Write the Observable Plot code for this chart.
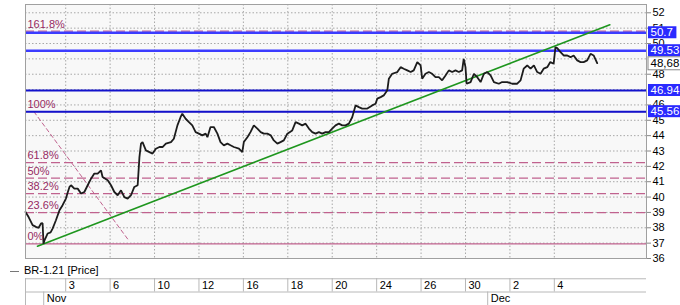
<!DOCTYPE html>
<html><head><meta charset="utf-8">
<script src="https://cdn.jsdelivr.net/npm/d3@7"></script>
<script src="https://cdn.jsdelivr.net/npm/@observablehq/plot@0.6"></script>
<style>
html,body{margin:0;padding:0;background:#fff;}
#wrap{position:relative;width:680px;height:305px;overflow:hidden;font-family:"Liberation Sans",Arial,sans-serif;}
#wrap svg{display:block;}
#legend{position:absolute;left:10px;top:263px;font-size:11px;color:#000;line-height:14px;}
#legend span.dash{display:inline-block;width:9px;border-top:1px solid #777;vertical-align:middle;margin-right:5px;}
#dates{position:absolute;left:0;top:278px;}
</style></head><body>
<div id="wrap"><div id="main"></div><div id="legend"><span class="dash"></span>BR-1.21 [Price]</div><div id="dates"></div></div>
<script>
// ---- data (trading-day index t: 0 = start of Nov 2, 2020) ----
const priceT = [-0.81,-0.67,-0.49,-0.34,-0.22,-0.11,-0.04,0.00,0.05,0.19,0.32,0.41,0.56,0.72,0.86,1.01,1.09,1.17,1.24,1.39,1.54,1.69,1.84,1.99,2.14,2.29,2.44,2.59,2.66,2.89,3.04,3.19,3.34,3.49,3.64,3.79,3.94,4.09,4.24,4.32,4.39,4.46,4.61,4.77,4.91,5.06,5.22,5.36,5.51,5.74,5.87,6.03,6.17,6.25,6.40,6.55,6.70,6.85,7.00,7.15,7.30,7.38,7.52,7.67,7.83,7.97,8.12,8.28,8.42,8.57,8.80,8.95,9.02,9.18,9.32,9.47,9.63,9.78,9.92,10.08,10.23,10.37,10.53,10.67,10.82,10.98,11.20,11.35,11.50,11.65,11.80,11.95,12.10,12.25,12.40,12.55,12.70,12.85,13.00,13.15,13.30,13.45,13.60,13.75,13.90,14.05,14.20,14.35,14.58,14.80,14.95,15.03,15.18,15.32,15.48,15.55,15.70,15.93,16.08,16.22,16.38,16.53,16.67,16.83,16.98,17.05,17.20,17.35,17.50,17.65,17.80,17.95,18.10,18.25,18.40,18.55,18.70,18.85,18.92,19.00,19.05,19.23,19.38,19.53,19.68,19.83,19.98,20.13,20.28,20.50,20.65,20.88,21.10,21.33,21.48,21.62,21.78,21.93,22.08,22.23,22.38,22.52,22.68,22.82,22.97,23.05,23.13,23.28,23.42,23.58,23.73,23.87,24.03,24.18,24.32,24.48,24.63,24.77,24.93];
const priceV = [39.03,38.70,38.17,38.06,38.00,38.28,38.30,36.96,37.20,37.63,37.70,37.95,38.49,39.14,39.47,39.90,40.30,40.66,40.77,40.55,40.55,40.23,40.33,40.77,41.20,41.53,41.53,41.74,41.31,41.09,40.77,40.33,40.12,40.44,40.00,39.90,40.12,40.66,40.77,42.60,43.48,43.58,43.04,42.93,42.83,43.15,43.26,43.26,43.48,43.58,43.80,44.67,45.20,45.43,45.10,44.88,44.67,44.23,44.13,44.02,44.13,43.90,44.56,44.56,44.13,43.58,43.37,43.48,43.37,43.26,43.15,42.93,43.58,43.90,44.23,44.67,44.46,44.23,44.13,44.13,44.02,43.69,43.48,43.58,43.69,44.13,44.34,44.88,44.78,44.67,44.78,44.46,44.23,44.13,44.23,44.13,44.23,44.23,44.46,44.67,44.78,44.67,44.67,44.78,45.20,45.97,45.86,45.76,45.76,45.97,46.08,46.41,46.51,46.62,46.95,47.71,48.03,48.14,48.46,48.36,48.25,48.14,48.25,48.79,48.57,47.71,48.03,48.14,48.03,47.81,47.81,47.60,47.92,48.25,48.14,48.25,48.14,48.25,49.00,48.46,47.38,47.49,48.03,47.81,47.49,48.03,48.14,47.92,47.49,47.38,47.49,47.49,47.38,47.38,47.60,48.36,48.57,48.36,48.57,48.14,48.03,48.36,48.46,48.79,48.68,49.76,49.70,49.44,49.22,49.22,49.11,49.22,48.90,48.79,48.79,48.90,49.33,49.22,48.72];

const yTicks = [36,37,38,39,40,41,42,43,44,45,46,47,48,49,50,51,52];
const yTickLabels = [36,37,38,39,40,41,42,43,44,45,46,48,50,51,52]; // 47 and 49 are hidden under value boxes
const dayTickT = [1,3,5,7,9,11,13,15,17,19,21,23];
const dayTickLabels = ["3","6","10","12","16","18","20","24","26","30","2","4"];
const monthT = [0.01,20.0];
const monthLabels = ["Nov","Dec"];

const fibLevels = [36.95,38.99,40.22,41.24,42.24,45.56,50.80];
const fibLabels = ["0%","23.6%","38.2%","50%","61.8%","100%","161.8%"];
const fibDashed = [false,true,true,true,true,false,true];

const levelValues = [50.7,49.53,46.94,45.56];
const levelLabels = ["50.7","49.53","46.94","45.56"];
const levelWidths = [2.5,2.5,2,2];
const lastValue = [48.68];
const lastLabel = ["48,68"];

const trendT = [-0.27,25.5];
const trendV = [36.8,51.22];
const fibDiagT = [-0.43,3.8];
const fibDiagV = [45.56,37.25];

// ---- build ----
const price = priceT.map((t,i)=>({t, v:priceV[i]}));
const fib = fibLevels.map((v,i)=>({v, label:fibLabels[i], dashed:fibDashed[i]}));
const levels = levelValues.map((v,i)=>({v, label:levelLabels[i], w:levelWidths[i]}));
const last = lastValue.map((v,i)=>({v, label:lastLabel[i]}));
const trend = trendT.map((t,i)=>({t, v:trendV[i]}));
const diag = fibDiagT.map((t,i)=>({t, v:fibDiagV[i]}));
const days = dayTickT.map((t,i)=>({t, label:dayTickLabels[i]}));
const months = monthT.map((t,i)=>({t, label:monthLabels[i]}));

const W=680, mL=25, mR=34, H=261, mT=4, mB=3;
const xDomain=[-0.81,27.15], yDomain=[36,52.54];
const pxX = (W-mL-mR)/(xDomain[1]-xDomain[0]);
const pxY = (H-mT-mB)/(yDomain[1]-yDomain[0]);
const grid = "#a8a8a8", fibColor = "#c0628e", fibText = "#962a62";

const main = Plot.plot({
  width: W, height: H, marginLeft: mL, marginRight: mR, marginTop: mT, marginBottom: mB,
  style: {fontFamily: '"Liberation Sans", Arial, sans-serif', fontSize: "11px", background: "transparent", overflow: "visible"},
  x: {domain: xDomain, axis: null},
  y: {domain: yDomain, axis: null},
  marks: [
    Plot.frame({fill: "#f8f8f8", stroke: null}),
    Plot.ruleY(yTicks, {stroke: grid, strokeDasharray: "1.5,2"}),
    Plot.ruleX(dayTickT, {stroke: grid, strokeDasharray: "1.5,2"}),
    Plot.ruleY(fib.filter(d=>d.dashed), {y: "v", stroke: fibColor, strokeWidth: 1.3, strokeDasharray: "9,4"}),
    Plot.ruleY(fib.filter(d=>!d.dashed), {y: "v", stroke: fibColor, strokeWidth: 1.2}),
    Plot.line(diag, {x: "t", y: "v", stroke: fibColor, strokeWidth: 1, strokeDasharray: "4,3"}),
    Plot.ruleY(levels, {y: "v", stroke: d=>d.w>2.2 ? "#3c3cff" : "#1212cc", strokeWidth: "w"}),
    Plot.line(trend, {x: "t", y: "v", stroke: "#1e961e", strokeWidth: 1.6}),
    Plot.line(price, {x: "t", y: "v", stroke: "#1c1c1c", strokeWidth: 1.8, strokeLinejoin: "miter"}),
    Plot.text(fib, {frameAnchor: "left", y: "v", text: "label", textAnchor: "start", dx: 2, dy: -7, fill: fibText, fontSize: 11}),
    Plot.frame({stroke: "#a0a0a0"}),
    Plot.axisY(yTickLabels, {anchor: "right", label: null, tickSize: 4, tickPadding: 2, fontSize: 11, color: "#000", stroke: "#888"}),
    Plot.rect(levels, {x1: xDomain[1] + 2/pxX, x2: d=>xDomain[1] + (6 + d.label.length*6.1)/pxX, y1: d=>d.v - 6/pxY, y2: d=>d.v + 6/pxY, fill: "#2a2aff"}),
    Plot.text(levels, {x: xDomain[1] + 2/pxX, y: "v", text: "label", textAnchor: "start", dx: 2, fill: "#fff", fontSize: 11.5}),
    Plot.rect(last, {x1: xDomain[1] + 2/pxX, x2: d=>xDomain[1] + (6 + d.label.length*6.1)/pxX, y1: d=>d.v - 6.5/pxY, y2: d=>d.v + 6.5/pxY, fill: "#fff", stroke: "#888"}),
    Plot.text(last, {x: xDomain[1] + 2/pxX, y: "v", text: "label", textAnchor: "start", dx: 2, fill: "#000", fontSize: 11.5})
  ]
});
document.getElementById("main").appendChild(main);

const dates = Plot.plot({
  width: W, height: 27, marginLeft: mL, marginRight: mR, marginTop: 0, marginBottom: 0,
  style: {fontFamily: '"Liberation Sans", Arial, sans-serif', fontSize: "11px", background: "transparent", overflow: "visible"},
  x: {domain: xDomain, axis: null},
  y: {domain: [0, 2], reverse: true, axis: null},
  marks: [
    Plot.ruleY([0.02, 1], {stroke: "#b8b8b8"}),
    Plot.ruleX([xDomain[0]], {y1: 0, y2: 2, stroke: "#b8b8b8"}),
    Plot.ruleX(days, {x: "t", y1: 0, y2: 1, stroke: "#b8b8b8"}),
    Plot.ruleX(months, {x: "t", y1: 1, y2: 2, stroke: "#b8b8b8"}),
    Plot.text(days, {x: "t", y: 0.5, text: "label", textAnchor: "start", dx: 3, fill: "#000", fontSize: 11}),
    Plot.text(months, {x: "t", y: 1.5, text: "label", textAnchor: "start", dx: 3, fill: "#000", fontSize: 11})
  ]
});
document.getElementById("dates").appendChild(dates);
</script>
</body></html>
